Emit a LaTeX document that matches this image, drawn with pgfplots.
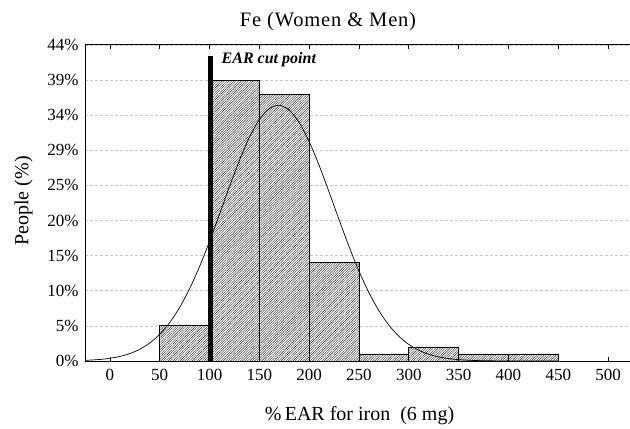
\documentclass[border=0pt]{standalone}
\usepackage{pgfplots}
\pgfplotsset{compat=1.18}
\usetikzlibrary{patterns.meta}
\usepackage{fontspec}
\setmainfont{Liberation Serif}

\begin{document}
\begin{tikzpicture}
\begin{axis}[
  scale only axis, width=545pt, height=316pt,
  xmin=-25, xmax=522, ymin=0, ymax=44.118,
  axis x line*=box, axis y line*=left,
  axis line style={black, line width=1pt},
  xtick={0,50,...,500},
  ytick={0,4.902,9.804,14.706,19.608,24.510,29.412,34.314,39.216,44.118},
  yticklabels={0\%,5\%,10\%,15\%,20\%,25\%,29\%,34\%,39\%,44\%},
  tick align=inside,
  major tick length=4pt,
  xtick style={black, line width=0.8pt},
  ytick style={draw=none},
  /pgf/number format/assume math mode=true,
  tick label style={font=\fontsize{17}{20}\selectfont},
  xticklabel style={yshift=-5pt},
  yticklabel style={xshift=-3pt},
  ymajorgrids,
  major grid style={gray!45, dash pattern=on 3pt off 2pt, line width=0.6pt},
]
\addplot[ybar interval, draw=black, line width=0.8pt, fill=white,
  postaction={pattern={Lines[angle=45,distance=1.7pt,line width=0.4pt]}, pattern color=black!85}]
  coordinates {(50,4.902) (100,39.216) (150,37.255) (200,13.725) (250,0.980) (300,1.961) (350,0.980) (400,0.980) (450,0.980)};
\addplot[smooth, black, line width=0.7pt] coordinates {
(-25,0.088) (-10,0.216) (0,0.376) (10,0.634) (20,1.036) (30,1.640) (40,2.515) (50,3.734)
(60,5.370) (70,7.481) (80,10.097) (90,13.199) (100,16.711) (110,20.494) (120,24.346)
(130,28.012) (140,31.220) (150,33.703) (160,35.242) (170,35.694) (180,35.018) (190,33.276)
(200,30.628) (210,27.307) (220,23.582) (230,19.725) (240,15.982) (250,12.541) (260,9.534)
(270,7.020) (280,5.006) (290,3.458) (300,2.314) (310,1.500) (320,0.942) (330,0.573)
(340,0.337) (350,0.192) (360,0.106) (370,0.057) (380,0.029) (400,0.007) (450,0.0)
};
\addplot[black, line width=5.5pt, line cap=butt] coordinates {(100.8,0) (100.8,42.6)};
\coordinate (ll) at (rel axis cs:0,0);
\coordinate (ur) at (rel axis cs:1,1);
\end{axis}
\pgfresetboundingbox
\path[use as bounding box] ([shift={(-85pt,-67pt)}]ll) rectangle ([shift={(0pt,45pt)}]ur);
\begin{scope}[shift={(ll)}, xshift=-85pt, yshift=361pt, x=1pt, y=-1pt]
\node[anchor=base, inner sep=0pt, font=\fontsize{20.5}{24}\selectfont\addfontfeature{LetterSpace=4}] at (328,26.5) {Fe (Women \& Men)};
\node[anchor=base, inner sep=0pt, font=\fontsize{20}{24}\selectfont] at (359.5,420.5) {\%\,EAR for iron\ \ (6 mg)};
\node[anchor=base, inner sep=0pt, rotate=90, font=\fontsize{20}{24}\selectfont] at (28.5,201) {People (\%)};
\node[anchor=base west, inner sep=0pt, font=\fontsize{16}{19}\selectfont\bfseries\itshape] at (221.5,64) {EAR cut point};
\end{scope}
\end{tikzpicture}
\end{document}
